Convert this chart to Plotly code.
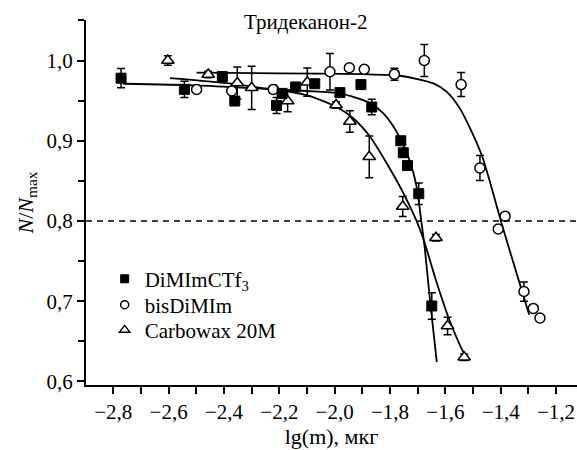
import plotly.graph_objects as go

# ---- data ----
sq_x = [-2.772, -2.543, -2.406, -2.361, -2.210, -2.190, -2.141, -2.072, -1.981,
        -1.905, -1.866, -1.761, -1.752, -1.737, -1.696, -1.649]
sq_y = [0.978, 0.964, 0.980, 0.9495, 0.944, 0.959, 0.967, 0.971, 0.960,
        0.970, 0.942, 0.900, 0.885, 0.869, 0.834, 0.694]
sq_e = [0.012, 0.010, 0, 0, 0.010, 0, 0, 0, 0,
        0, 0.0097, 0, 0, 0, 0.0134, 0.0165]

ci_x = [-2.499, -2.372, -2.222, -2.017, -1.947, -1.893, -1.784, -1.676, -1.543,
        -1.475, -1.384, -1.409, -1.316, -1.282, -1.258]
ci_y = [0.964, 0.962, 0.964, 0.986, 0.991, 0.989, 0.983, 1.000, 0.970,
        0.866, 0.806, 0.790, 0.712, 0.691, 0.679]
ci_e = [0, 0, 0, 0.0227, 0, 0, 0.0075, 0.020, 0.015,
        0.0155, 0, 0, 0.012, 0, 0]

tr_x = [-2.603, -2.457, -2.352, -2.300, -2.213, -2.170, -2.099, -1.995, -1.945,
        -1.875, -1.754, -1.634, -1.592, -1.532]
tr_y = [1.000, 0.9826, 0.972, 0.966, 0.963, 0.9495, 0.973, 0.9445, 0.924,
        0.880, 0.818, 0.779, 0.669, 0.630]
tr_e = [0.006, 0.004, 0.020, 0.027, 0, 0.0134, 0.0176, 0.004, 0.0134,
        0.026, 0.0125, 0.004, 0.011, 0.004]

fit_sq_x = [-2.764, -2.50, -2.222, -2.10, -1.981, -1.873, -1.824, -1.776, -1.734,
            -1.704, -1.687, -1.674, -1.656, -1.631]
fit_sq_y = [0.971, 0.969, 0.964, 0.962, 0.959, 0.947, 0.934, 0.911, 0.880,
            0.843, 0.800, 0.765, 0.703, 0.624]

fit_tr_x = [-2.595, -2.40, -2.222, -2.161, -2.090, -1.993, -1.933, -1.872, -1.812,
            -1.752, -1.704, -1.679, -1.631, -1.589, -1.547, -1.525]
fit_tr_y = [0.978, 0.972, 0.964, 0.961, 0.9557, 0.942, 0.928, 0.905, 0.872,
            0.835, 0.800, 0.777, 0.723, 0.680, 0.645, 0.630]

fit_ci_x = [-2.499, -2.20, -1.90, -1.764, -1.643, -1.595, -1.547, -1.469, -1.396,
            -1.312, -1.297]
fit_ci_y = [0.985, 0.984, 0.983, 0.981, 0.9715, 0.961, 0.940, 0.8825, 0.796,
            0.700, 0.683]

x_ticks = [-2.8, -2.6, -2.4, -2.2, -2.0, -1.8, -1.6, -1.4, -1.2]
x_labels = ["\u22122,8", "\u22122,6", "\u22122,4", "\u22122,2", "\u22122,0",
            "\u22121,8", "\u22121,6", "\u22121,4", "\u22121,2"]
y_ticks = [0.6, 0.7, 0.8, 0.9, 1.0]
y_labels = ["0,6", "0,7", "0,8", "0,9", "1,0"]

names = ["DiMImCTf<sub>3</sub>", "bisDiMIm", "Carbowax 20M"]
title_text = "Тридеканон-2"
threshold = 0.8

FONT = "Liberation Serif"
fig = go.Figure()

line_style = dict(color="black", width=1.8, shape="spline", smoothing=0.7)
for fx, fy in [(fit_sq_x, fit_sq_y), (fit_tr_x, fit_tr_y), (fit_ci_x, fit_ci_y)]:
    fig.add_trace(go.Scatter(x=fx, y=fy, mode="lines", line=line_style,
                             showlegend=False, hoverinfo="skip"))

def err(e):
    return dict(type="data", array=e, symmetric=True, color="black",
                thickness=1.5, width=4)

fig.add_trace(go.Scatter(x=tr_x, y=tr_y, mode="markers", error_y=err(tr_e),
                         marker=dict(symbol="triangle-up", size=11, color="white",
                                     line=dict(color="black", width=1.5)),
                         showlegend=False))
fig.add_trace(go.Scatter(x=ci_x, y=ci_y, mode="markers", error_y=err(ci_e),
                         marker=dict(symbol="circle", size=10, color="white",
                                     line=dict(color="black", width=1.5)),
                         showlegend=False))
fig.add_trace(go.Scatter(x=sq_x, y=sq_y, mode="markers", error_y=err(sq_e),
                         marker=dict(symbol="square", size=10, color="black",
                                     line=dict(color="black", width=1)),
                         showlegend=False))

# legend-only entries, one small legend per row so the rows sit tightly
leg_markers = [
    dict(symbol="square", size=8, color="black", line=dict(color="black", width=1)),
    dict(symbol="circle", size=8, color="white", line=dict(color="black", width=1.5)),
    dict(symbol="triangle-up", size=9, color="white", line=dict(color="black", width=1.5)),
]
leg_ids = ["legend", "legend2", "legend3"]
leg_rows_y = [0.290, 0.219, 0.150]
for nm, mk, lid in zip(names, leg_markers, leg_ids):
    fig.add_trace(go.Scatter(x=[None], y=[None], mode="markers", name=nm, marker=mk,
                             legend=lid))

fig.add_shape(type="line", xref="paper", yref="y", x0=0, x1=1, y0=threshold, y1=threshold,
              line=dict(color="black", width=1.5, dash="6px,5px"))

leg_common = dict(x=0.038, xanchor="left", yanchor="middle",
                  bgcolor="rgba(0,0,0,0)", font=dict(size=21, family=FONT),
                  itemwidth=30)
legend_layout = {lid: dict(leg_common, y=ly) for lid, ly in zip(leg_ids, leg_rows_y)}

fig.update_layout(
    width=577, height=450,
    margin=dict(l=86, r=0, t=20, b=65, autoexpand=False),
    paper_bgcolor="white", plot_bgcolor="white",
    font=dict(family=FONT, size=20, color="black"),
    showlegend=True,
    annotations=[dict(text=title_text, xref="paper", yref="paper", x=0.448, y=1.0,
                      xanchor="center", yanchor="middle", showarrow=False,
                      font=dict(size=21, family=FONT), yshift=-2)],
    **legend_layout,
)
fig.update_xaxes(
    automargin=False,
    range=[-2.8987, -1.1242], tickmode="array", tickvals=x_ticks, ticktext=x_labels,
    showgrid=False, zeroline=False, showline=True, linecolor="black", linewidth=2,
    ticks="outside", ticklen=7, tickwidth=1.5, tickcolor="black",
    tickfont=dict(size=21, family=FONT),
    minor=dict(tick0=-2.9, dtick=0.1, ticks="outside", ticklen=7, tickwidth=1.5,
               tickcolor="black", showgrid=False),
    title=dict(text="lg(m), мкг", font=dict(size=22, family=FONT), standoff=2),
)
fig.update_yaxes(
    automargin=False,
    range=[0.5955, 1.0505], tickmode="array", tickvals=y_ticks, ticktext=y_labels,
    showgrid=False, zeroline=False, showline=True, linecolor="black", linewidth=2,
    ticks="outside", ticklen=7, tickwidth=1.5, tickcolor="black",
    tickfont=dict(size=21, family=FONT),
    minor=dict(tick0=0.6, dtick=0.05, ticks="outside", ticklen=6, tickwidth=1.5,
               tickcolor="black", showgrid=False),
    title=dict(text="<i>N</i>/<i>N</i><sub>max</sub>", font=dict(size=22, family=FONT),
               standoff=7),
)

fig.write_html("out.html")
